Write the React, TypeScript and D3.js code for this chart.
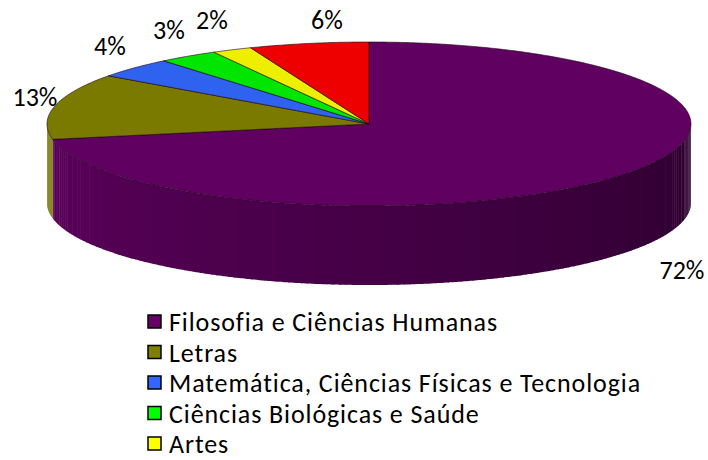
import React, { useEffect, useRef } from 'react';
import * as d3 from 'd3';

// areas of knowledge (last one is cut off in the legend)
const categories = [
  'Filosofia e Ciências Humanas',
  'Letras',
  'Matemática, Ciências Físicas e Tecnologia',
  'Ciências Biológicas e Saúde',
  'Artes',
  'Outros',
];
const values = [72, 13, 4, 3, 2, 6];
const labels = ['72%', '13%', '4%', '3%', '2%', '6%'];
const legendCount = 5;

const topColors = ['#600060', '#7a7a00', '#2f62ee', '#00e600', '#eeee00', '#ee0000'];
const legendColors = ['#660066', '#808000', '#3366ff', '#00ff00', '#ffff00', '#ff0000'];
const sideLight = ['#5e005e', '#767600', '#2a56d0', '#00c800', '#d0d000', '#cc0000'];
const sideDark = ['#2c002e', '#3c3c00', '#14306e', '#006400', '#707000', '#660000'];

const W = 708;
const H = 460;
const FONT = 'Carlito, Calibri, Lato, sans-serif';
const FS = 26;

const App = () => {
  const ref = useRef(null);

  useEffect(() => {
    const svg = d3.select(ref.current);
    svg.selectAll('*').remove();

    const cx = 369, cy = 124, rx = 322, ry = 82, depth = 79;

    const arcs = d3.pie<number>().sort(null).startAngle(0).endAngle(2 * Math.PI)(values);

    const pt = (a: number, dy = 0) => [cx + rx * Math.sin(a), cy - ry * Math.cos(a) + dy];
    const arcPts = (a0: number, a1: number, dy = 0) => {
      const n = Math.max(2, Math.ceil(Math.abs(a1 - a0) / 0.01));
      return d3.range(n + 1).map(i => pt(a0 + (a1 - a0) * i / n, dy));
    };
    const line = d3.line();

    // side wall, drawn in thin strips so the shade follows the angle
    const g = svg.append('g');
    const step = 0.02;
    arcs.forEach((d, i) => {
      const a0 = Math.max(d.startAngle, Math.PI / 2);
      const a1 = Math.min(d.endAngle, 3 * Math.PI / 2);
      if (a1 <= a0) return;
      const shade = d3.interpolateRgb(sideDark[i], sideLight[i]);
      for (let a = a0; a < a1; a += step) {
        const b = Math.min(a + step + 0.004, a1);
        const t = (a - Math.PI / 2) / Math.PI;
        const pts = [...arcPts(a, b), ...arcPts(b, a, depth)];
        g.append('path')
          .attr('d', line(pts as any) + 'Z')
          .attr('fill', shade(t))
          .attr('stroke', 'none');
      }
    });

    // top face
    arcs.forEach((d, i) => {
      const pts = [[cx, cy], ...arcPts(d.startAngle, d.endAngle)];
      svg.append('path')
        .attr('d', line(pts as any) + 'Z')
        .attr('fill', topColors[i])
        .attr('stroke', '#1a0010')
        .attr('stroke-width', 0.6)
        .attr('stroke-linejoin', 'round');
    });

    // percentage labels
    const labelPos = [[682, 270], [35, 97], [110, 46], [169, 30], [212, 20], [327, 20]];
    labels.forEach((l, i) => {
      svg.append('text')
        .attr('x', labelPos[i][0])
        .attr('y', labelPos[i][1])
        .attr('text-anchor', 'middle')
        .attr('dominant-baseline', 'central')
        .attr('font-family', FONT)
        .attr('font-size', FS)
        .attr('fill', '#000')
        .text(l);
    });

    // legend
    const ly = d3.scaleLinear().domain([0, 1]).range([322, 352.5]);
    const leg = svg.append('g');
    categories.slice(0, legendCount).forEach((c, i) => {
      const y = ly(i);
      leg.append('rect')
        .attr('x', 148)
        .attr('y', y - 7)
        .attr('width', 13)
        .attr('height', 13)
        .attr('fill', legendColors[i])
        .attr('stroke', '#000')
        .attr('stroke-width', 1.5);
      leg.append('text')
        .attr('x', 169)
        .attr('y', y)
        .attr('dominant-baseline', 'central')
        .attr('font-family', FONT)
        .attr('font-size', FS)
        .attr('letter-spacing', 0.9)
        .attr('fill', '#000')
        .text(c);
    });
  }, []);

  return (
    <svg
      ref={ref}
      width={W}
      height={H}
      style={{ position: 'absolute', left: 0, top: 0, background: '#fff' }}
    />
  );
};

export default App;
